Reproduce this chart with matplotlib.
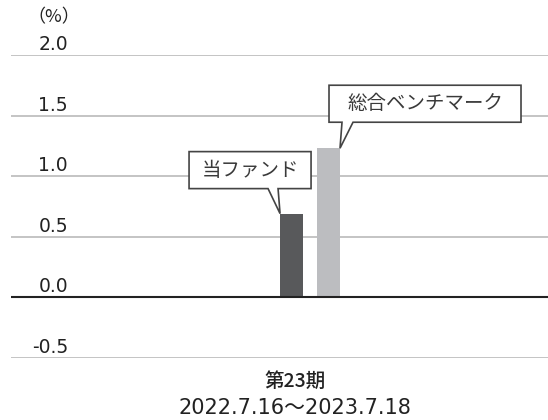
import matplotlib
matplotlib.use('Agg')
import matplotlib.pyplot as plt
import matplotlib.transforms as mtransforms
from matplotlib.patches import Polygon
import numpy as np

plt.rcParams['font.family'] = ['Noto Sans CJK JP', 'DejaVu Sans']
num_family = ['DejaVu Sans', 'Noto Sans CJK JP']

# data
series_names = ['当ファンド', '総合ベンチマーク']
values = [0.69, 1.23]
bar_colors = ['#58595b', '#bcbdc0']
y_ticks = [-0.5, 0.0, 0.5, 1.0, 1.5, 2.0]
y_tick_labels = ['-0.5', '0.0', '0.5', '1.0', '1.5', '2.0']
period_label = '第23期'
date_label = '2022.7.16〜2023.7.18'
unit_label = '（%）'

W, H = 548, 420
fig = plt.figure(figsize=(W / 100, H / 100), dpi=100)
ax = fig.add_axes([11 / W, 1 - 357.7 / H, 1 - 11 / W, (357.7 - 55) / H])

xpos = np.arange(len(values))
ax.bar(xpos, values, width=0.62, color=bar_colors, zorder=3)
ax.set_xlim(-7.58, 6.93)
ax.set_ylim(-0.5, 2.0)

for v in y_ticks:
    if v == 0:
        ax.axhline(v, color='#222222', lw=1.5, zorder=4)
    else:
        ax.axhline(v, color='#bfbfbf', lw=1.3, zorder=1)

for s in ax.spines.values():
    s.set_visible(False)
ax.set_xticks([])
ax.set_yticks([])

# tick labels sit above each grid line
blend = mtransforms.blended_transform_factory(fig.transFigure, ax.transData)
for v, lab in zip(y_ticks, y_tick_labels):
    ax.annotate(lab, xy=(68 / W, v), xycoords=blend, xytext=(0, 5),
                textcoords='offset pixels', ha='right', va='baseline',
                fontsize=13.5, color='#222222', family=num_family,
                annotation_clip=False)

fig.text(54 / W, 1 - 17 / H, unit_label, ha='center', va='center',
         fontsize=13, color='#222222')
fig.text(295 / W, 1 - 381 / H, period_label, ha='center', va='center',
         fontsize=14, color='#222222', fontweight='medium')
fig.text(295 / W, 1 - 408 / H, date_label, ha='center', va='center',
         fontsize=15, color='#222222', family=num_family)

# callouts
fig.canvas.draw()
callouts = [
    # (bar index, tip side, polygon offsets in pixels, text center)
    (0, -0.31, [(-91, 25), (-12, 25), (0, 0), (-2, 25), (31, 25), (31, 62), (-91, 62)], (-30, 43.5)),
    (1, 0.31, [(-11, 26), (2, 26), (0, 0), (13, 26), (181, 26), (181, 63), (-11, 63)], (85, 44.5)),
]
for i, dx, poly, tc in callouts:
    tx, ty = ax.transData.transform((xpos[i] + dx, values[i]))
    tr = mtransforms.Affine2D().translate(tx, ty)
    p = Polygon(poly, closed=True, facecolor='white', edgecolor='#444444',
                lw=1.2, transform=tr, zorder=5, clip_on=False)
    fig.add_artist(p)
    fig.text(0, 0, series_names[i], transform=mtransforms.Affine2D().translate(tx + tc[0], ty + tc[1]),
             ha='center', va='center', fontsize=14, color='#3a3a3a', zorder=6)

fig.savefig('out.png', dpi=100)
